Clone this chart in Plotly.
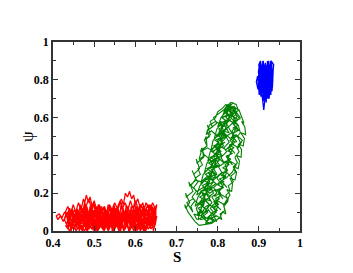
import plotly.graph_objects as go

# Trajectory points (S, psi)
red_pts = [
    (0.43,0.03),(0.437,0.01),(0.441,0.05),(0.448,0.02),(0.452,0.06),(0.459,0.01),(0.466,0.04),(0.471,0.0),(0.478,0.05),(0.484,0.02),
    (0.49,0.06),(0.497,0.01),(0.503,0.04),(0.509,0.0),(0.516,0.05),(0.522,0.02),(0.528,0.06),(0.535,0.01),(0.541,0.04),(0.547,0.0),
    (0.554,0.05),(0.56,0.02),(0.566,0.06),(0.573,0.01),(0.579,0.04),(0.585,0.0),(0.592,0.05),(0.598,0.02),(0.604,0.06),(0.611,0.01),
    (0.617,0.04),(0.623,0.0),(0.63,0.05),(0.636,0.02),(0.642,0.06),(0.648,0.03),
    (0.652,0.08),(0.646,0.05),(0.64,0.1),(0.633,0.06),(0.627,0.09),(0.62,0.04),(0.614,0.08),(0.607,0.05),(0.601,0.1),(0.594,0.06),
    (0.588,0.09),(0.581,0.04),(0.575,0.08),(0.568,0.05),(0.562,0.1),(0.555,0.06),(0.549,0.09),(0.542,0.04),(0.536,0.08),(0.529,0.05),
    (0.523,0.1),(0.516,0.06),(0.51,0.09),(0.503,0.04),(0.497,0.08),(0.49,0.05),(0.484,0.1),(0.477,0.06),(0.471,0.09),(0.464,0.04),
    (0.458,0.08),(0.451,0.05),(0.445,0.1),(0.438,0.06),(0.432,0.09),(0.425,0.05),(0.418,0.08),(0.412,0.06),(0.408,0.08),
    (0.415,0.09),(0.422,0.07),(0.428,0.1),(0.434,0.08),(0.44,0.12),(0.447,0.09),(0.453,0.11),(0.46,0.07),(0.466,0.13),(0.472,0.1),
    (0.478,0.16),(0.481,0.19),(0.486,0.15),(0.49,0.18),(0.495,0.13),(0.5,0.16),(0.506,0.11),(0.512,0.13),(0.518,0.09),(0.524,0.12),
    (0.53,0.08),(0.536,0.13),(0.542,0.1),(0.548,0.14),(0.554,0.09),(0.56,0.13),(0.566,0.17),(0.571,0.14),(0.576,0.2),(0.581,0.18),
    (0.586,0.21),(0.591,0.17),(0.596,0.19),(0.6,0.14),(0.606,0.17),(0.612,0.12),(0.618,0.15),(0.624,0.1),(0.63,0.14),(0.636,0.11),
    (0.642,0.15),(0.648,0.12),(0.652,0.14),
    (0.647,0.07),(0.641,0.03),(0.635,0.07),(0.628,0.02),(0.622,0.06),(0.615,0.03),(0.609,0.07),(0.602,0.01),(0.596,0.05),(0.589,0.02),
    (0.583,0.07),(0.576,0.03),(0.57,0.06),(0.563,0.01),(0.557,0.05),(0.55,0.02),(0.544,0.07),(0.537,0.03),(0.531,0.06),(0.524,0.01),
    (0.518,0.05),(0.511,0.02),(0.505,0.07),(0.498,0.03),(0.492,0.06),(0.485,0.01),(0.479,0.05),(0.472,0.02),(0.466,0.07),(0.459,0.03),
    (0.453,0.06),(0.446,0.01),(0.44,0.05),(0.434,0.04),
    (0.438,0.08),(0.444,0.11),(0.451,0.07),(0.457,0.1),(0.463,0.06),(0.469,0.12),(0.475,0.08),(0.481,0.11),(0.488,0.07),(0.494,0.12),
    (0.5,0.08),(0.507,0.11),(0.513,0.06),(0.519,0.1),(0.525,0.07),(0.532,0.11),(0.538,0.06),(0.544,0.12),(0.551,0.08),(0.557,0.11),
    (0.563,0.07),(0.57,0.12),(0.576,0.08),(0.582,0.13),(0.589,0.07),(0.595,0.11),(0.601,0.07),(0.608,0.12),(0.614,0.08),(0.62,0.11),
    (0.627,0.06),(0.633,0.1),(0.639,0.07),(0.646,0.11),(0.65,0.09),
    (0.644,0.04),(0.638,0.01),(0.632,0.04),(0.625,0.0),(0.619,0.03),(0.612,0.0),(0.606,0.04),(0.599,0.01),(0.593,0.03),(0.586,0.0),
    (0.58,0.04),(0.573,0.01),(0.567,0.03),(0.56,0.0),(0.554,0.04),(0.547,0.01),(0.541,0.03),(0.534,0.0),(0.528,0.04),(0.521,0.01),
    (0.515,0.03),(0.508,0.0),(0.502,0.04),(0.495,0.01),(0.489,0.03),(0.482,0.0),(0.476,0.04),(0.469,0.01),(0.463,0.03),(0.456,0.0),
    (0.45,0.04),(0.443,0.02),(0.437,0.05),
    (0.43,0.1),(0.436,0.13),(0.443,0.09),(0.449,0.14),(0.455,0.1),(0.462,0.15),(0.468,0.11),(0.474,0.17),(0.48,0.13),(0.487,0.17),
    (0.493,0.12),(0.499,0.15),(0.506,0.1),(0.512,0.14),(0.518,0.11),(0.525,0.13),(0.531,0.09),(0.537,0.14),(0.544,0.11),(0.55,0.15),
    (0.556,0.12),(0.563,0.16),(0.569,0.12),(0.575,0.15),(0.582,0.11),(0.588,0.16),(0.594,0.12),(0.601,0.16),(0.607,0.11),(0.613,0.14),
    (0.62,0.1),(0.626,0.15),(0.632,0.12),(0.639,0.14),(0.645,0.1),
    (0.445,0.03),(0.45,0.07),(0.456,0.04),(0.461,0.09),(0.467,0.03),(0.473,0.07),(0.479,0.02),(0.483,0.08),(0.489,0.04),(0.494,0.09),
    (0.5,0.03),(0.505,0.06),(0.511,0.02),(0.516,0.08),(0.521,0.04),(0.527,0.09),(0.532,0.03),(0.538,0.07),(0.543,0.02),(0.549,0.08),
    (0.554,0.03),(0.56,0.09),(0.565,0.04),(0.571,0.08),(0.576,0.02),(0.582,0.07),(0.587,0.03),(0.593,0.09),(0.598,0.04),(0.603,0.08),
    (0.609,0.03),(0.614,0.09),(0.62,0.02),(0.625,0.07),(0.631,0.03),(0.636,0.09),(0.641,0.04),(0.646,0.08),
    (0.65,0.12),(0.644,0.08),(0.638,0.13),(0.632,0.09),(0.626,0.12),(0.62,0.07),(0.614,0.11),(0.608,0.08),(0.602,0.13),(0.596,0.09),
    (0.59,0.12),(0.584,0.07),(0.578,0.11),(0.572,0.09),(0.566,0.13),(0.56,0.07),(0.554,0.12),(0.548,0.08),(0.542,0.12),(0.536,0.07),
    (0.53,0.11),(0.524,0.08),(0.518,0.12),(0.512,0.07),(0.506,0.13),(0.5,0.09),(0.494,0.12),(0.488,0.08),(0.482,0.13),(0.476,0.09),
    (0.47,0.12),(0.464,0.08),(0.458,0.12),(0.452,0.07),(0.446,0.11),(0.44,0.07),(0.434,0.1),(0.428,0.06),
    (0.44,0.0),(0.446,0.03),(0.452,0.01),(0.458,0.04),(0.464,0.01),(0.47,0.03),(0.476,0.0),(0.482,0.03),(0.488,0.01),(0.494,0.04),
    (0.5,0.0),(0.506,0.03),(0.512,0.01),(0.518,0.04),(0.524,0.0),(0.53,0.03),(0.536,0.01),(0.542,0.04),(0.548,0.0),(0.554,0.03),
    (0.56,0.01),(0.566,0.04),(0.572,0.0),(0.578,0.03),(0.584,0.01),(0.59,0.04),(0.596,0.0),(0.602,0.03),(0.608,0.01),(0.614,0.04),
    (0.62,0.0),(0.626,0.03),(0.632,0.01),(0.638,0.04),(0.644,0.01),
    (0.648,0.05),(0.643,0.09),(0.637,0.04),(0.631,0.08),(0.624,0.05),(0.618,0.1),(0.611,0.05),(0.605,0.09),(0.599,0.04),(0.592,0.08),
    (0.586,0.05),(0.58,0.1),(0.573,0.05),(0.567,0.09),(0.561,0.04),(0.554,0.08),(0.548,0.05),(0.542,0.1),(0.535,0.05),(0.529,0.09),
    (0.523,0.04),(0.516,0.08),(0.51,0.05),(0.504,0.1),(0.497,0.05),(0.491,0.09),(0.485,0.04),(0.478,0.08),(0.472,0.05),(0.466,0.1),
    (0.459,0.05),(0.453,0.09),(0.447,0.04),(0.44,0.08),(0.434,0.06),
    (0.442,0.06),(0.446,0.1),(0.45,0.03),(0.454,0.08),(0.458,0.05),(0.462,0.11),(0.466,0.02),(0.47,0.07),(0.474,0.04),(0.478,0.1),
    (0.482,0.06),(0.486,0.02),(0.49,0.09),(0.494,0.05),(0.498,0.11),(0.502,0.03),(0.506,0.08),(0.51,0.04),(0.514,0.1),(0.518,0.06),
    (0.522,0.02),(0.526,0.09),(0.53,0.05),(0.534,0.11),(0.538,0.03),(0.542,0.08),(0.546,0.04),(0.55,0.1),(0.554,0.06),(0.558,0.02),
    (0.562,0.09),(0.566,0.05),(0.57,0.11),(0.574,0.03),(0.578,0.08),(0.582,0.04),(0.586,0.1),(0.59,0.06),(0.594,0.02),(0.598,0.09),
    (0.602,0.05),(0.606,0.11),(0.61,0.03),(0.614,0.08),(0.618,0.04),(0.622,0.1),(0.626,0.06),(0.63,0.02),(0.634,0.09),(0.638,0.05),
    (0.642,0.1),(0.646,0.06),
    (0.644,0.11),(0.64,0.03),(0.636,0.07),(0.632,0.12),(0.628,0.05),(0.624,0.09),(0.62,0.01),(0.616,0.06),(0.612,0.1),(0.608,0.04),
    (0.604,0.08),(0.6,0.12),(0.596,0.02),(0.592,0.07),(0.588,0.11),(0.584,0.05),(0.58,0.09),(0.576,0.01),(0.572,0.06),(0.568,0.1),
    (0.564,0.04),(0.56,0.08),(0.556,0.12),(0.552,0.02),(0.548,0.07),(0.544,0.11),(0.54,0.05),(0.536,0.09),(0.532,0.01),(0.528,0.06),
    (0.524,0.1),(0.52,0.04),(0.516,0.08),(0.512,0.12),(0.508,0.02),(0.504,0.07),(0.5,0.11),(0.496,0.05),(0.492,0.09),(0.488,0.01),
    (0.484,0.06),(0.48,0.1),(0.476,0.04),(0.472,0.08),(0.468,0.12),(0.464,0.02),(0.46,0.07),(0.456,0.11),(0.452,0.05),(0.448,0.09),
    (0.444,0.02),(0.44,0.06),
    (0.436,0.02),(0.44,0.07),(0.444,0.0),(0.448,0.05),(0.452,0.08),(0.456,0.02),(0.46,0.06),(0.464,0.0),(0.468,0.04),(0.472,0.08),
    (0.476,0.02),(0.48,0.06),(0.484,0.0),(0.488,0.05),(0.492,0.08),(0.496,0.02),(0.5,0.06),(0.504,0.0),(0.508,0.04),(0.512,0.08),
    (0.516,0.02),(0.52,0.06),(0.524,0.0),(0.528,0.05),(0.532,0.08),(0.536,0.02),(0.54,0.06),(0.544,0.0),(0.548,0.04),(0.552,0.08),
    (0.556,0.02),(0.56,0.06),(0.564,0.0),(0.568,0.05),(0.572,0.08),(0.576,0.02),(0.58,0.06),(0.584,0.0),(0.588,0.04),(0.592,0.08),
    (0.596,0.02),(0.6,0.06),(0.604,0.0),(0.608,0.05),(0.612,0.08),(0.616,0.02),(0.62,0.06),(0.624,0.0),(0.628,0.04),(0.632,0.08),
    (0.636,0.02),(0.64,0.06),(0.644,0.0),(0.648,0.04),
    (0.65,0.1),(0.646,0.13),(0.642,0.07),(0.638,0.11),(0.634,0.14),(0.63,0.08),(0.626,0.12),(0.622,0.06),(0.618,0.13),(0.614,0.09),
    (0.61,0.14),(0.606,0.07),(0.602,0.11),(0.598,0.15),(0.594,0.08),(0.59,0.13),(0.586,0.06),(0.582,0.1),(0.578,0.14),(0.574,0.07),
    (0.57,0.11),(0.566,0.15),(0.562,0.08),(0.558,0.12),(0.554,0.06),(0.55,0.1),(0.546,0.13),(0.542,0.07),(0.538,0.11),(0.534,0.14),
    (0.53,0.08),(0.526,0.12),(0.522,0.06),(0.518,0.13),(0.514,0.09),(0.51,0.14),(0.506,0.07),(0.502,0.11),(0.498,0.15),(0.494,0.08),
    (0.49,0.13),(0.486,0.06),(0.482,0.1),(0.478,0.14),(0.474,0.07),(0.47,0.11),(0.466,0.14),(0.462,0.08),(0.458,0.12),(0.454,0.06),
    (0.45,0.1),(0.446,0.12),(0.442,0.07),(0.438,0.1),
]

green_pts = [
    (0.75,0.06),(0.742,0.09),(0.755,0.08),(0.748,0.12),(0.756,0.15),(0.745,0.13),(0.752,0.18),(0.762,0.21),(0.749,0.19),(0.757,0.24),
    (0.77,0.27),(0.759,0.25),(0.765,0.3),(0.778,0.33),(0.768,0.31),(0.774,0.36),(0.786,0.39),(0.776,0.37),(0.782,0.42),(0.795,0.45),
    (0.784,0.43),(0.789,0.48),(0.803,0.51),(0.792,0.49),(0.798,0.54),(0.81,0.57),(0.8,0.55),(0.808,0.6),(0.82,0.63),(0.812,0.61),
    (0.822,0.66),(0.832,0.68),
    (0.845,0.67),(0.85,0.64),(0.838,0.66),(0.843,0.62),(0.855,0.59),(0.847,0.61),(0.84,0.56),(0.852,0.53),(0.846,0.55),(0.835,0.5),
    (0.847,0.47),(0.84,0.49),(0.83,0.44),(0.842,0.41),(0.835,0.43),(0.824,0.38),(0.836,0.35),(0.829,0.37),(0.818,0.32),(0.83,0.29),
    (0.822,0.31),(0.81,0.26),(0.823,0.23),(0.815,0.25),(0.802,0.2),(0.813,0.17),(0.806,0.19),(0.795,0.14),(0.808,0.11),(0.8,0.13),
    (0.79,0.08),(0.798,0.05),(0.782,0.07),
    (0.772,0.05),(0.764,0.09),(0.778,0.11),(0.768,0.1),(0.78,0.14),(0.768,0.17),(0.782,0.16),(0.772,0.2),(0.788,0.23),(0.776,0.22),
    (0.79,0.26),(0.78,0.29),(0.796,0.28),(0.786,0.32),(0.8,0.35),(0.79,0.34),(0.806,0.38),(0.796,0.41),(0.81,0.4),(0.8,0.44),
    (0.818,0.47),(0.806,0.46),(0.822,0.5),(0.812,0.53),(0.828,0.52),(0.816,0.56),(0.832,0.59),(0.82,0.58),(0.836,0.62),(0.826,0.65),
    (0.838,0.68),
    (0.8,0.62),(0.79,0.6),(0.798,0.57),(0.78,0.54),(0.775,0.56),(0.782,0.51),(0.768,0.48),(0.772,0.5),(0.774,0.45),(0.758,0.42),
    (0.762,0.44),(0.766,0.39),(0.75,0.36),(0.748,0.38),(0.756,0.33),(0.742,0.3),(0.738,0.32),(0.748,0.27),(0.732,0.24),(0.73,0.26),
    (0.74,0.21),(0.724,0.18),(0.722,0.2),(0.732,0.15),(0.722,0.12),(0.72,0.14),(0.728,0.1),(0.735,0.08),(0.745,0.05),(0.755,0.03),
    (0.785,0.04),(0.805,0.07),(0.812,0.1),(0.82,0.09),(0.815,0.13),(0.826,0.16),(0.818,0.15),(0.83,0.19),(0.822,0.22),(0.834,0.21),
    (0.836,0.25),(0.83,0.28),(0.842,0.27),(0.846,0.31),(0.838,0.34),(0.85,0.33),(0.853,0.37),(0.846,0.4),(0.857,0.39),(0.858,0.43),
    (0.85,0.46),(0.862,0.45),(0.865,0.49),(0.856,0.52),(0.868,0.51),(0.866,0.55),(0.858,0.58),(0.864,0.57),(0.858,0.61),(0.852,0.64),
    (0.845,0.63),(0.84,0.66),
    (0.83,0.65),(0.822,0.62),(0.83,0.6),(0.815,0.57),(0.806,0.58),(0.81,0.54),(0.8,0.51),(0.814,0.52),(0.805,0.48),(0.794,0.45),
    (0.808,0.46),(0.798,0.42),(0.787,0.39),(0.8,0.4),(0.79,0.36),(0.779,0.33),(0.792,0.34),(0.782,0.3),(0.771,0.27),(0.784,0.28),
    (0.774,0.24),(0.763,0.21),(0.776,0.22),(0.766,0.18),(0.756,0.15),(0.768,0.16),(0.76,0.12),(0.752,0.09),(0.765,0.1),(0.758,0.06),
    (0.775,0.07),(0.79,0.1),(0.782,0.12),(0.795,0.15),(0.786,0.18),(0.798,0.2),(0.79,0.23),(0.805,0.26),(0.798,0.28),(0.81,0.31),
    (0.802,0.34),(0.816,0.36),(0.808,0.39),(0.822,0.42),(0.815,0.44),(0.828,0.47),(0.82,0.5),(0.834,0.52),(0.826,0.55),(0.84,0.58),
    (0.832,0.6),(0.842,0.63),(0.835,0.65),
    (0.83,0.66),(0.82,0.64),(0.824,0.61),(0.812,0.6),(0.82,0.58),(0.81,0.56),(0.815,0.52),(0.803,0.53),(0.81,0.5),(0.8,0.48),
    (0.805,0.44),(0.793,0.45),(0.8,0.42),(0.79,0.4),(0.795,0.36),(0.782,0.37),(0.79,0.34),(0.785,0.3),(0.776,0.31),(0.784,0.29),
    (0.772,0.25),(0.778,0.26),(0.768,0.23),(0.775,0.19),(0.762,0.2),(0.77,0.17),(0.765,0.13),(0.758,0.14),(0.768,0.12),(0.76,0.08),
    (0.778,0.04),(0.79,0.05),(0.785,0.08),(0.797,0.1),(0.79,0.12),(0.802,0.14),(0.795,0.17),(0.808,0.19),(0.8,0.21),(0.814,0.23),
    (0.806,0.26),(0.82,0.28),(0.812,0.3),(0.824,0.32),(0.818,0.35),(0.83,0.37),(0.822,0.39),(0.832,0.41),(0.826,0.44),(0.838,0.46),
    (0.83,0.48),(0.84,0.5),(0.835,0.53),(0.845,0.55),(0.836,0.57),(0.842,0.6),(0.832,0.61),(0.84,0.64),
    (0.82,0.67),(0.812,0.65),(0.8,0.63),(0.795,0.6),(0.782,0.58),(0.787,0.55),(0.774,0.53),(0.78,0.5),(0.768,0.48),(0.774,0.45),
    (0.762,0.43),(0.768,0.4),(0.756,0.38),(0.763,0.35),(0.752,0.33),(0.758,0.3),(0.746,0.28),(0.752,0.26),(0.742,0.23),(0.748,0.21),
    (0.738,0.18),(0.745,0.16),(0.735,0.13),(0.74,0.1),
    (0.725,0.15),(0.74,0.17),(0.755,0.14),(0.77,0.16),(0.785,0.13),(0.8,0.16),(0.815,0.14),(0.826,0.17),(0.81,0.19),(0.795,0.22),
    (0.78,0.2),(0.765,0.23),(0.75,0.21),(0.735,0.24),(0.745,0.27),(0.76,0.26),(0.775,0.29),(0.79,0.27),(0.805,0.3),(0.82,0.28),
    (0.835,0.31),(0.845,0.35),(0.83,0.37),(0.815,0.36),(0.8,0.39),(0.785,0.37),(0.77,0.4),(0.755,0.38),(0.76,0.42),(0.775,0.44),
    (0.79,0.42),(0.805,0.45),(0.82,0.43),(0.835,0.46),(0.85,0.44),(0.86,0.48),(0.845,0.51),(0.83,0.49),(0.815,0.52),(0.8,0.5),
    (0.785,0.53),(0.772,0.51),(0.78,0.56),(0.795,0.58),(0.81,0.56),(0.825,0.59),(0.84,0.57),(0.855,0.6),(0.845,0.63),(0.83,0.61),
    (0.815,0.64),(0.825,0.67),
    (0.842,0.58),(0.85,0.56),(0.855,0.52),(0.848,0.5),(0.855,0.47),(0.847,0.44),(0.852,0.42),(0.842,0.39),(0.848,0.36),(0.838,0.34),
    (0.843,0.31),(0.832,0.29),(0.838,0.26),(0.826,0.24),(0.83,0.21),(0.82,0.19),(0.825,0.16),(0.814,0.14),(0.818,0.11),(0.806,0.09),
    (0.81,0.06),(0.798,0.08),
    (0.775,0.06),(0.785,0.09),(0.775,0.12),(0.786,0.15),(0.778,0.18),(0.79,0.2),(0.783,0.23),(0.796,0.25),(0.786,0.27),(0.798,0.3),
    (0.79,0.33),(0.804,0.35),(0.795,0.38),(0.81,0.4),(0.8,0.43),(0.814,0.45),(0.806,0.48),(0.82,0.5),(0.812,0.53),(0.826,0.55),
    (0.818,0.58),(0.83,0.6),(0.822,0.63),(0.834,0.65),
    (0.752,0.06),(0.764,0.075),(0.75,0.09),(0.763,0.105),(0.752,0.12),(0.766,0.135),(0.754,0.15),(0.768,0.165),(0.756,0.18),(0.77,0.195),
    (0.758,0.21),(0.773,0.225),(0.762,0.24),(0.776,0.255),(0.765,0.27),(0.78,0.285),(0.77,0.3),(0.784,0.315),(0.774,0.33),(0.788,0.345),
    (0.778,0.36),(0.792,0.375),(0.782,0.39),(0.796,0.405),(0.786,0.42),(0.8,0.435),(0.79,0.45),(0.804,0.465),(0.794,0.48),(0.808,0.495),
    (0.798,0.51),(0.813,0.525),(0.803,0.54),(0.816,0.555),(0.806,0.57),(0.82,0.585),(0.81,0.6),(0.824,0.615),(0.815,0.63),(0.828,0.645),
    (0.82,0.66),
    (0.845,0.65),(0.835,0.635),(0.848,0.62),(0.837,0.605),(0.85,0.59),(0.838,0.575),(0.85,0.56),(0.837,0.545),(0.849,0.53),(0.835,0.515),
    (0.846,0.5),(0.832,0.485),(0.843,0.47),(0.828,0.455),(0.84,0.44),(0.824,0.425),(0.836,0.41),(0.82,0.395),(0.832,0.38),(0.816,0.365),
    (0.828,0.35),(0.812,0.335),(0.824,0.32),(0.808,0.305),(0.82,0.29),(0.804,0.275),(0.816,0.26),(0.8,0.245),(0.812,0.23),(0.796,0.215),
    (0.808,0.2),(0.792,0.185),(0.805,0.17),(0.79,0.155),(0.802,0.14),(0.787,0.125),(0.8,0.11),(0.785,0.095),(0.797,0.08),(0.782,0.065),
    (0.79,0.05),
    (0.77,0.04),(0.778,0.06),(0.766,0.08),(0.776,0.1),(0.768,0.125),(0.78,0.14),(0.77,0.165),(0.782,0.18),(0.772,0.205),(0.786,0.22),
    (0.776,0.245),(0.79,0.26),(0.78,0.285),(0.795,0.3),(0.785,0.325),(0.8,0.34),(0.79,0.365),(0.804,0.38),(0.795,0.405),(0.808,0.42),
    (0.8,0.445),(0.813,0.46),(0.805,0.485),(0.818,0.5),(0.81,0.525),(0.823,0.54),(0.815,0.565),(0.827,0.58),(0.82,0.605),(0.832,0.62),
    (0.826,0.645),(0.836,0.66),
]

blue_pts = [
    (0.9,0.86),(0.903,0.74),(0.906,0.88),(0.908,0.72),(0.911,0.9),(0.913,0.7),(0.916,0.89),(0.918,0.68),(0.921,0.9),(0.923,0.71),
    (0.926,0.88),(0.928,0.73),(0.931,0.89),(0.933,0.76),(0.935,0.86),
    (0.932,0.8),(0.929,0.9),(0.926,0.77),(0.923,0.86),(0.92,0.74),(0.917,0.84),(0.914,0.72),(0.911,0.83),(0.908,0.76),(0.904,0.85),
    (0.901,0.78),(0.897,0.82),(0.894,0.79),
    (0.898,0.75),(0.902,0.83),(0.905,0.71),(0.909,0.86),(0.912,0.75),(0.915,0.88),(0.919,0.73),(0.922,0.84),(0.925,0.7),(0.928,0.82),
    (0.931,0.76),(0.934,0.84),(0.936,0.88),
    (0.93,0.9),(0.927,0.84),(0.924,0.9),(0.92,0.82),(0.917,0.88),(0.913,0.8),(0.91,0.87),(0.906,0.8),(0.902,0.89),(0.899,0.84),(0.903,0.8),
    (0.907,0.74),(0.91,0.68),(0.913,0.77),(0.916,0.7),(0.919,0.78),(0.922,0.72),(0.925,0.8),(0.928,0.74),(0.924,0.7),(0.918,0.76),
    (0.912,0.64),(0.909,0.71),(0.905,0.78),(0.901,0.72),(0.898,0.8),
    (0.902,0.86),(0.906,0.82),(0.91,0.9),(0.914,0.85),(0.918,0.82),(0.922,0.88),(0.926,0.83),(0.93,0.86),(0.934,0.8),(0.932,0.74),
    (0.927,0.78),(0.921,0.8),(0.915,0.78),(0.909,0.82),(0.904,0.8),
    (0.905,0.84),(0.907,0.76),(0.909,0.88),(0.912,0.78),(0.914,0.86),(0.916,0.74),(0.919,0.86),(0.921,0.77),(0.924,0.87),(0.926,0.79),
    (0.929,0.86),(0.931,0.79),(0.929,0.72),(0.925,0.76),(0.921,0.7),(0.917,0.8),(0.913,0.69),(0.909,0.8),(0.905,0.74),(0.902,0.82),
    (0.9,0.88),(0.904,0.9),(0.908,0.84),
]

x_ticks = [0.4, 0.5, 0.6, 0.7, 0.8, 0.9, 1.0]
x_labels = ["0.4", "0.5", "0.6", "0.7", "0.8", "0.9", "1"]
y_ticks = [0, 0.2, 0.4, 0.6, 0.8, 1.0]
y_labels = ["0", "0.2", "0.4", "0.6", "0.8", "1"]

fig = go.Figure()
for pts, col, w in [(red_pts, "#ff0000", 1.3), (green_pts, "#008000", 1.1), (blue_pts, "#0000ff", 1.3)]:
    fig.add_trace(go.Scatter(
        x=[p[0] for p in pts], y=[p[1] for p in pts],
        mode="lines", line=dict(color=col, width=w), showlegend=False,
    ))

tick_font = dict(family="Liberation Serif", size=12, color="black")
common = dict(
    showline=True, linecolor="#333333", linewidth=1.5, mirror="ticks",
    ticks="inside", ticklen=5, tickwidth=1, tickcolor="#333333",
    showgrid=False, zeroline=False, tickfont=tick_font, automargin=False,
)
fig.update_xaxes(range=[0.4, 1.0], tickvals=x_ticks, ticktext=["<b>%s</b>" % t for t in x_labels],
                 minor=dict(ticks="inside", ticklen=3, dtick=0.05, tick0=0.4, tickcolor="#333333"),
                 **common)
fig.update_yaxes(range=[0, 1.0], tickvals=y_ticks, ticktext=["<b>%s</b>" % t for t in y_labels],
                 minor=dict(ticks="inside", ticklen=3, dtick=0.1, tick0=0, tickcolor="#333333"),
                 **common)
fig.add_annotation(text="<b>S</b>", xref="paper", yref="paper", x=0.5, y=-0.135,
                   xanchor="center", yanchor="middle", showarrow=False,
                   font=dict(family="Liberation Serif", size=15, color="black"))
fig.add_annotation(text="ψ", xref="paper", yref="paper", x=-0.103, y=0.5, textangle=-90,
                   xanchor="center", yanchor="middle", showarrow=False,
                   font=dict(family="Liberation Serif", size=17, color="black"))
fig.update_layout(
    width=353, height=273,
    margin=dict(l=53, r=53, t=42, b=42),
    paper_bgcolor="white", plot_bgcolor="white",
)
fig.write_html("out.html", config={"displayModeBar": False},
               post_script="document.body.style.margin='0';")
